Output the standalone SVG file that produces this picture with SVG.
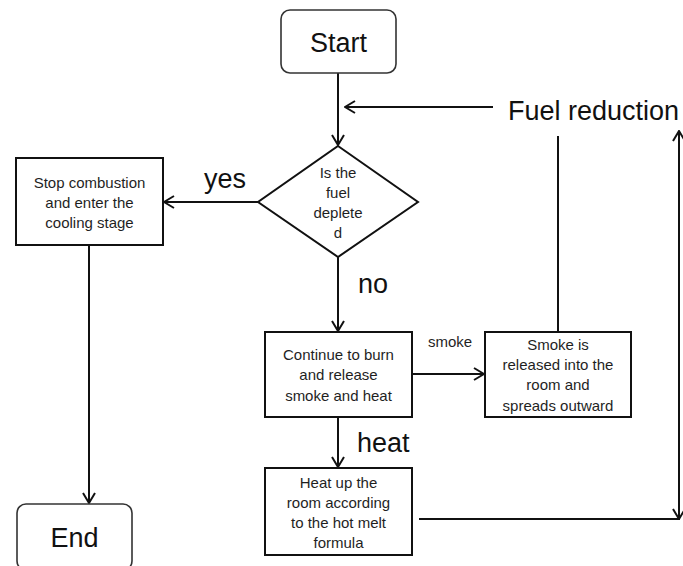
<svg xmlns="http://www.w3.org/2000/svg" width="683" height="566" viewBox="0 0 683 566">
  <defs>
    <marker id="arrow" viewBox="0 0 12 14" refX="11" refY="7" markerWidth="12" markerHeight="14" markerUnits="userSpaceOnUse" orient="auto-start-reverse">
      <path d="M1,1 L11,7 L1,13" fill="none" stroke="#111" stroke-width="2"/>
    </marker>
    <style>
      .box { fill: #fff; stroke: #111; stroke-width: 2; }
      .term { fill: #fff; stroke: #333; stroke-width: 1.6; }
      .line { fill: none; stroke: #111; stroke-width: 2; }
      .arr { marker-end: url(#arrow); }
      .small { font-family: "Liberation Sans", Arial, sans-serif; font-size: 15px; fill: #1f1f1f; text-anchor: middle; }
      .big { font-family: "Liberation Sans", Arial, sans-serif; font-size: 27px; fill: #111; }
      .mid { text-anchor: middle; }
    </style>
  </defs>

  <rect width="683" height="566" fill="#fff"/>

  <!-- connectors -->
  <g id="connectors">
    <line class="line arr" x1="338" y1="73" x2="338" y2="145"/>
    <line class="line arr" x1="493" y1="107" x2="345" y2="107"/>
    <line class="line arr" x1="258" y1="202" x2="164" y2="202"/>
    <line class="line arr" x1="89" y1="245" x2="89" y2="503"/>
    <line class="line arr" x1="338" y1="257" x2="338" y2="331"/>
    <line class="line arr" x1="412" y1="374" x2="484" y2="374"/>
    <line class="line" x1="558" y1="332" x2="558" y2="136"/>
    <line class="line arr" x1="338" y1="417" x2="338" y2="467"/>
    <line class="line" x1="419" y1="519" x2="680" y2="519"/>
    <line class="line" x1="679" y1="519" x2="679" y2="131" marker-start="url(#arrow)" marker-end="url(#arrow)"/>
    <text class="big" x="508" y="120">Fuel reduction</text>
    <text class="big" x="204" y="188" font-size="26">yes</text>
    <text class="big" x="358" y="293" font-size="26">no</text>
    <text class="small" x="450" y="347" font-size="14">smoke</text>
    <text class="big" x="357" y="452">heat</text>
  </g>

  <!-- start -->
  <g id="start">
    <rect class="term" x="281" y="10" width="115" height="63" rx="9"/>
    <text class="big mid" x="338.5" y="52">Start</text>
  </g>

  <!-- decision -->
  <g id="fuel-depleted">
    <polygon class="box" points="338,146 418,202 338,257 258,202"/>
    <text class="small" x="338" y="178">Is the</text>
    <text class="small" x="338" y="198">fuel</text>
    <text class="small" x="338" y="218">deplete</text>
    <text class="small" x="338" y="238">d</text>
  </g>

  <!-- stop combustion -->
  <g id="stop-combustion">
    <rect class="box" x="16" y="158" width="147" height="87"/>
    <text class="small" x="89.5" y="188">Stop combustion</text>
    <text class="small" x="89.5" y="208">and enter the</text>
    <text class="small" x="89.5" y="228">cooling stage</text>
  </g>

  <!-- end -->
  <g id="end">
    <rect class="term" x="17" y="504" width="115" height="66" rx="9"/>
    <text class="big mid" x="74.5" y="547">End</text>
  </g>

  <!-- continue burning -->
  <g id="continue-burn">
    <rect class="box" x="265" y="332" width="147" height="85"/>
    <text class="small" x="338.5" y="360">Continue to burn</text>
    <text class="small" x="338.5" y="380">and release</text>
    <text class="small" x="338.5" y="401">smoke and heat</text>
  </g>

  <!-- smoke release -->
  <g id="smoke-release">
    <rect class="box" x="485" y="332" width="146" height="85"/>
    <text class="small" x="558" y="350">Smoke is</text>
    <text class="small" x="558" y="370">released into the</text>
    <text class="small" x="558" y="390">room and</text>
    <text class="small" x="558" y="411">spreads outward</text>
  </g>

  <!-- heat up room -->
  <g id="heat-room">
    <rect class="box" x="265" y="468" width="147" height="87"/>
    <text class="small" x="338.5" y="488">Heat up the</text>
    <text class="small" x="338.5" y="508">room according</text>
    <text class="small" x="338.5" y="528">to the hot melt</text>
    <text class="small" x="338.5" y="548">formula</text>
  </g>
</svg>
